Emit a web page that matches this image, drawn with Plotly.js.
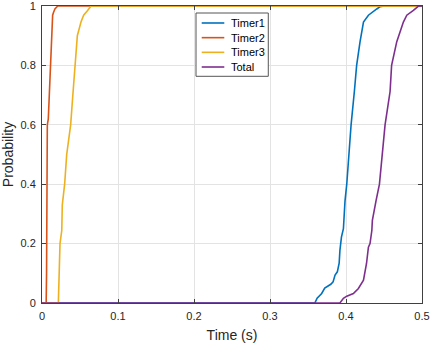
<!DOCTYPE html>
<html>
<head>
<meta charset="utf-8">
<script src="https://cdn.plot.ly/plotly-3.0.1.min.js"></script>
<style>html,body{margin:0;padding:0;background:#fff;}#chart{width:430px;height:343px;}</style>
</head>
<body>
<div id="chart"></div>
<script>
const timer1X = [0, 0.359, 0.362, 0.368, 0.372, 0.376, 0.380, 0.383, 0.3856, 0.3886, 0.391, 0.392, 0.394, 0.3966, 0.3987, 0.401, 0.4067, 0.411, 0.414, 0.4185, 0.423, 0.4295, 0.4355, 0.4405, 0.445, 0.45, 0.5];
const timer1Y = [0, 0, 0.016, 0.032, 0.05, 0.056, 0.063, 0.071, 0.094, 0.105, 0.134, 0.177, 0.222, 0.25, 0.344, 0.4, 0.6, 0.712, 0.8, 0.88, 0.946, 0.969, 0.982, 0.99, 0.998, 1, 1];

const timer2X = [0, 0.0055, 0.006, 0.0062, 0.0066, 0.007, 0.0083, 0.0095, 0.0114, 0.0118, 0.0128, 0.014, 0.015, 0.017, 0.0207, 0.5];
const timer2Y = [0, 0, 0.1, 0.3, 0.5, 0.6, 0.62, 0.7, 0.8, 0.85, 0.95, 0.969, 0.977, 0.99, 1, 1];

const timer3X = [0, 0.0215, 0.0237, 0.026, 0.0267, 0.0298, 0.0325, 0.0377, 0.040, 0.0434, 0.0465, 0.0513, 0.0548, 0.060, 0.0645, 0.5];
const timer3Y = [0, 0, 0.2, 0.244, 0.33, 0.4, 0.5, 0.6, 0.68, 0.8, 0.9, 0.946, 0.969, 0.985, 1, 1];

const totalX = [0, 0.392, 0.3966, 0.401, 0.4097, 0.4163, 0.423, 0.427, 0.4295, 0.4316, 0.434, 0.4347, 0.4395, 0.444, 0.4514, 0.458, 0.460, 0.4668, 0.4755, 0.48, 0.4887, 0.495, 0.5];
const totalY = [0, 0, 0.016, 0.023, 0.032, 0.049, 0.077, 0.133, 0.188, 0.2, 0.244, 0.278, 0.344, 0.4, 0.6, 0.712, 0.8, 0.88, 0.946, 0.969, 0.985, 0.999, 1];

const seriesNames = ['Timer1', 'Timer2', 'Timer3', 'Total'];
const seriesColors = ['#0072BD', '#D95319', '#EDB120', '#7E2F8E'];
const xTickVals = [0, 0.1, 0.2, 0.3, 0.4, 0.5];
const xTickText = ['0', '0.1', '0.2', '0.3', '0.4', '0.5'];
const yTickVals = [0, 0.2, 0.4, 0.6, 0.8, 1];
const yTickText = ['0', '0.2', '0.4', '0.6', '0.8', '1'];

const xs = [timer1X, timer2X, timer3X, totalX];
const ys = [timer1Y, timer2Y, timer3Y, totalY];

const FONT = 'Liberation Sans, Arial, Helvetica, sans-serif';
const AX = '#404040';

const traces = seriesNames.map((n, i) => ({
  type: 'scatter', mode: 'lines', name: n, showlegend: false,
  x: xs[i], y: ys[i],
  line: {color: seriesColors[i], width: 1.6}
}));

// MATLAB-style legend box drawn with shapes + annotations (paper coords)
const legBox = {x0: 0.4053, x1: 0.5955, y0: 0.7633, y1: 0.9764};
const legLineX = [0.4203, 0.4797];
const legTextX = 0.4929;
const legY0 = 0.9428, legStep = 0.0494;

const shapes = [{
  type: 'rect', xref: 'paper', yref: 'paper',
  x0: legBox.x0, x1: legBox.x1, y0: legBox.y0, y1: legBox.y1,
  fillcolor: '#ffffff', line: {color: '#555555', width: 1}, layer: 'above'
}];
const annotations = [];
seriesNames.forEach((n, i) => {
  const y = legY0 - i * legStep;
  shapes.push({
    type: 'line', xref: 'paper', yref: 'paper',
    x0: legLineX[0], x1: legLineX[1], y0: y, y1: y,
    line: {color: seriesColors[i], width: 1.6}, layer: 'above'
  });
  annotations.push({
    xref: 'paper', yref: 'paper', x: legTextX, y: y,
    xanchor: 'left', yanchor: 'middle', showarrow: false,
    text: n, font: {family: FONT, size: 11, color: '#000000'}
  });
});

const axisCommon = {
  showline: true, mirror: 'ticks', linecolor: AX, linewidth: 1,
  ticks: 'inside', ticklen: 4, tickcolor: AX, tickwidth: 1,
  showgrid: true, gridcolor: '#e3e3e3', zeroline: false,
  tickmode: 'array', automargin: false, ticklabeloverflow: 'allow',
  tickfont: {family: FONT, size: 11, color: '#262626'}
};

const layout = {
  width: 430, height: 343,
  margin: {l: 42, r: 8, t: 6, b: 40},
  paper_bgcolor: '#ffffff', plot_bgcolor: '#ffffff',
  font: {family: FONT, color: '#262626'},
  xaxis: Object.assign({}, axisCommon, {
    range: [0, 0.5], tickvals: xTickVals, ticktext: xTickText,
    ticklabelstandoff: 3,
    title: {text: 'Time (s)', font: {family: FONT, size: 14, color: '#262626'}, standoff: 8}
  }),
  yaxis: Object.assign({}, axisCommon, {
    range: [0, 1], tickvals: yTickVals, ticktext: yTickText,
    ticklabelstandoff: 3,
    title: {text: 'Probability', font: {family: FONT, size: 14, color: '#262626'}, standoff: 4}
  }),
  showlegend: false,
  shapes: shapes,
  annotations: annotations
};

Plotly.newPlot('chart', traces, layout, {displayModeBar: false, staticPlot: true});
</script>
</body>
</html>
